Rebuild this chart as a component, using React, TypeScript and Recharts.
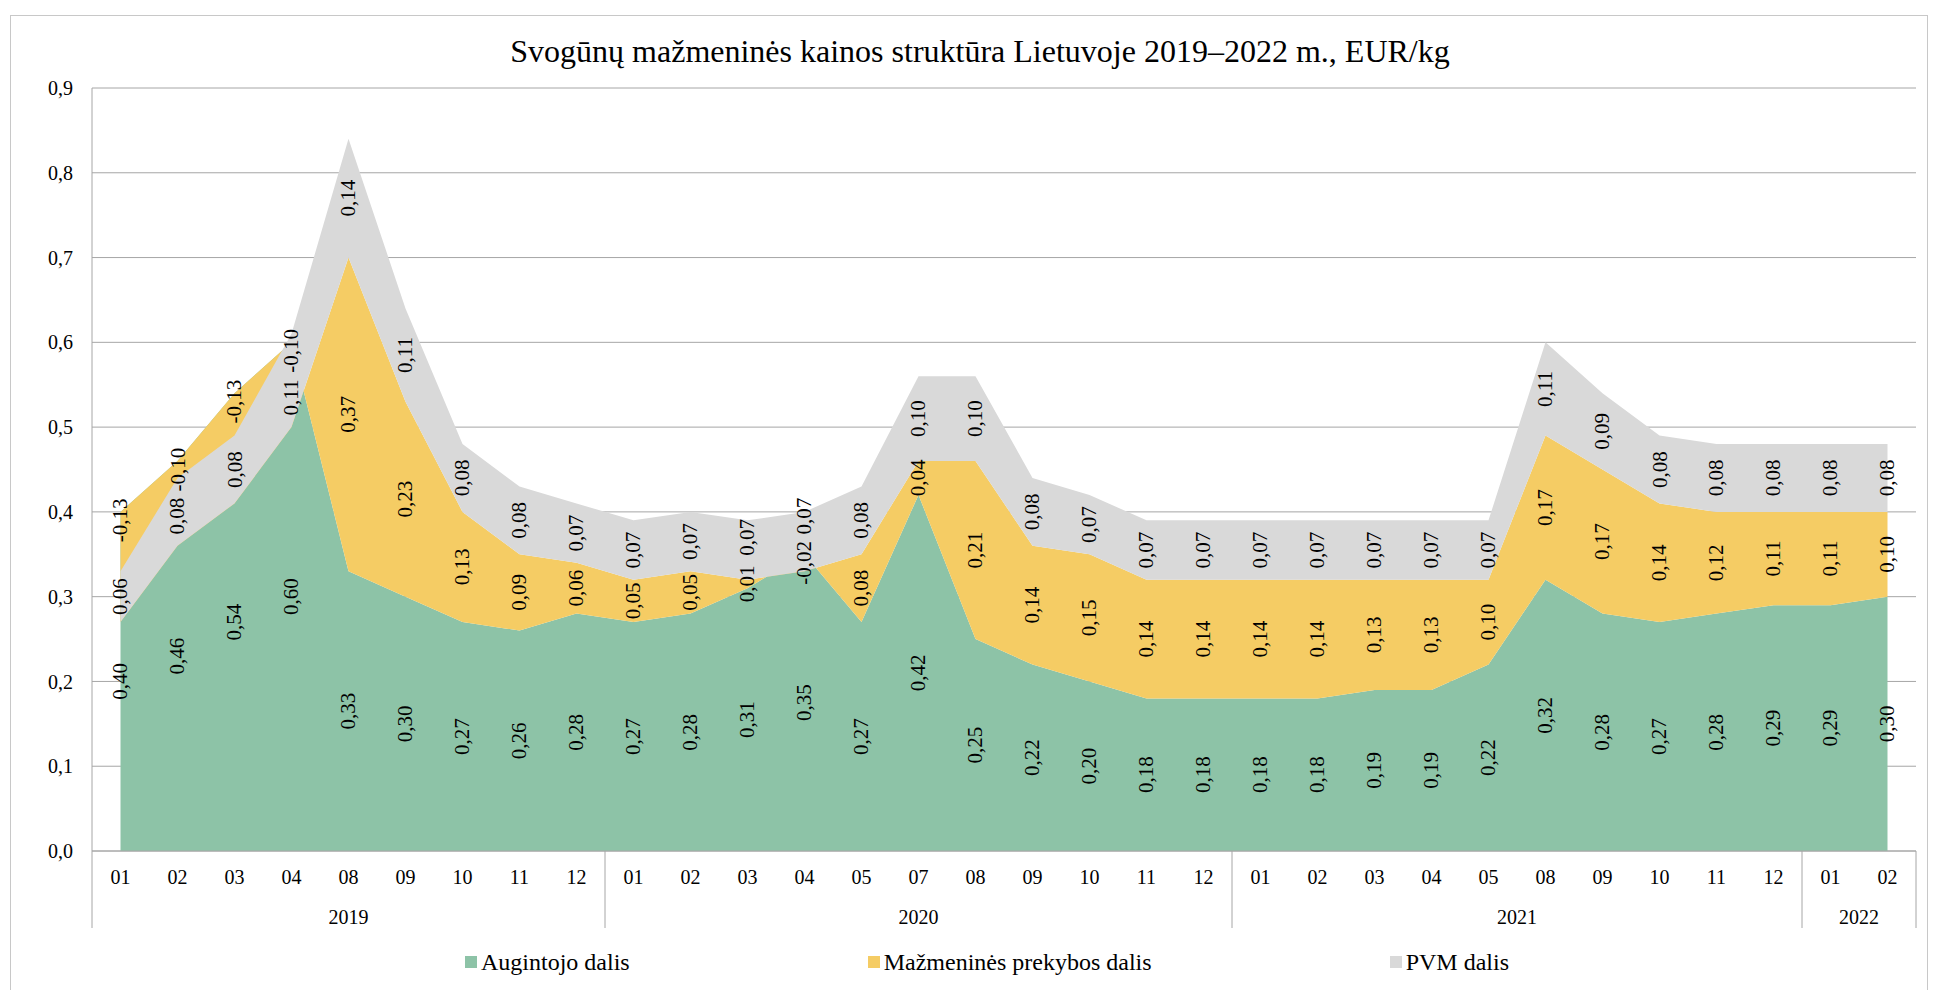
import {
  Area,
  AreaChart,
  CartesianGrid,
  LabelList,
  Legend,
  Line,
  XAxis,
  YAxis,
} from "recharts";

const months = [
  "01", "02", "03", "04", "08", "09", "10", "11", "12",
  "01", "02", "03", "04", "05", "07", "08", "09", "10", "11", "12",
  "01", "02", "03", "04", "05", "08", "09", "10", "11", "12",
  "01", "02",
];

const yearGroups = [
  { year: "2019", count: 9 },
  { year: "2020", count: 11 },
  { year: "2021", count: 10 },
  { year: "2022", count: 2 },
];

const augintojo = [
  0.4, 0.46, 0.54, 0.6, 0.33, 0.3, 0.27, 0.26, 0.28,
  0.27, 0.28, 0.31, 0.35, 0.27, 0.42, 0.25, 0.22, 0.2, 0.18, 0.18,
  0.18, 0.18, 0.19, 0.19, 0.22, 0.32, 0.28, 0.27, 0.28, 0.29,
  0.29, 0.3,
];

const mazmenines = [
  -0.13, -0.1, -0.13, -0.1, 0.37, 0.23, 0.13, 0.09, 0.06,
  0.05, 0.05, 0.01, -0.02, 0.08, 0.04, 0.21, 0.14, 0.15, 0.14, 0.14,
  0.14, 0.14, 0.13, 0.13, 0.1, 0.17, 0.17, 0.14, 0.12, 0.11,
  0.11, 0.1,
];

const pvm = [
  0.06, 0.08, 0.08, 0.11, 0.14, 0.11, 0.08, 0.08, 0.07,
  0.07, 0.07, 0.07, 0.07, 0.08, 0.1, 0.1, 0.08, 0.07, 0.07, 0.07,
  0.07, 0.07, 0.07, 0.07, 0.07, 0.11, 0.09, 0.08, 0.08, 0.08,
  0.08, 0.08,
];

const seriesNames = ["Augintojo dalis", "Mažmeninės prekybos dalis", "PVM dalis"];
const yTicks = [0, 0.1, 0.2, 0.3, 0.4, 0.5, 0.6, 0.7, 0.8, 0.9];

const COLORS = ["#8dc3a7", "#f5cc64", "#d9d9d9"];
const GRID = "#a6a6a6";
const FONT = "'Liberation Serif', 'Times New Roman', serif";

// chart geometry (point scale padded by half a category so marks sit mid-slot)
const W = 1921;
const H = 982;
const SLOT = 57;
const HALF = SLOT / 2;
// min distance (in axis units) between two stacked value labels
const LABEL_SEP = 0.055;

const data = months.map((m, i) => {
  const a = augintojo[i];
  const z = mazmenines[i];
  const p = pvm[i];
  // negative retail share: keep its label up at the top of its strip, like Excel
  const zPos = z < 0 ? a - 0.01 : a + z / 2;
  let pPos = a + z + p / 2;
  if (Math.abs(pPos - zPos) < LABEL_SEP) {
    pPos = pPos < zPos ? zPos - LABEL_SEP : zPos + LABEL_SEP;
  }
  return {
    month: m,
    aug: a,
    maz: z,
    pvm: p,
    augMid: a / 2,
    mazMid: zPos,
    pvmMid: pPos,
  };
});

const groupStart: Record<number, { year: string; count: number }> = {};
{
  let idx = 0;
  for (const g of yearGroups) {
    groupStart[idx] = g;
    idx += g.count;
  }
}

const fmt = (v: number) => v.toFixed(2).replace(".", ",");

function ValueLabel(props: any) {
  const x = props.x ?? props.viewBox?.x;
  const y = props.y ?? props.viewBox?.y;
  const { value } = props;
  if (value == null || x == null || y == null) return null;
  return (
    <text
      x={x}
      y={y}
      transform={`rotate(-90 ${x} ${y})`}
      textAnchor="middle"
      dominantBaseline="central"
      fontFamily={FONT}
      fontSize={21}
      fill="#000"
    >
      {fmt(Number(value))}
    </text>
  );
}

function MonthTick(props: any) {
  const { x, y, payload } = props;
  const index: number = props.index ?? payload.index;
  const g = groupStart[index];
  const isLast = index === months.length - 1;
  return (
    <g>
      <text
        x={x}
        y={y + 26}
        textAnchor="middle"
        dominantBaseline="central"
        fontFamily={FONT}
        fontSize={20}
        fill="#000"
      >
        {payload.value}
      </text>
      {g && (
        <>
          <line x1={x - HALF} x2={x - HALF} y1={y} y2={y + 77} stroke={GRID} />
          <text
            x={x - HALF + g.count * HALF}
            y={y + 66}
            textAnchor="middle"
            dominantBaseline="central"
            fontFamily={FONT}
            fontSize={20}
            fill="#000"
          >
            {g.year}
          </text>
        </>
      )}
      {isLast && (
        <line x1={x + HALF} x2={x + HALF} y1={y} y2={y + 77} stroke={GRID} />
      )}
    </g>
  );
}

function LegendContent() {
  return (
    <div
      style={{
        display: "flex",
        justifyContent: "center",
        alignItems: "center",
        gap: 238,
        height: 42,
        paddingLeft: 26,
        fontFamily: FONT,
        fontSize: 24,
        color: "#000",
      }}
    >
      {seriesNames.map((name, i) => (
        <div key={name} style={{ display: "flex", alignItems: "center" }}>
          <span
            style={{
              display: "inline-block",
              width: 12,
              height: 12,
              background: COLORS[i],
              marginRight: 4,
            }}
          />
          <span>{name}</span>
        </div>
      ))}
    </div>
  );
}

export default function App() {
  return (
    <div style={{ position: "relative", width: W, height: H }}>
      <div
        style={{
          position: "absolute",
          left: 2,
          top: 7,
          width: 1918,
          height: 975,
          borderTop: "1px solid #c8c8c8",
          borderLeft: "1px solid #c8c8c8",
          borderRight: "1px solid #c8c8c8",
          boxSizing: "border-box",
        }}
      />
      <div
        style={{
          position: "absolute",
          left: 0,
          top: 27,
          width: 1944,
          textAlign: "center",
          fontFamily: FONT,
          fontSize: 32,
          lineHeight: "32px",
          color: "#000",
          whiteSpace: "nowrap",
        }}
      >
        Svogūnų mažmeninės kainos struktūra Lietuvoje 2019–2022 m., EUR/kg
      </div>
      <div style={{ position: "absolute", left: 0, top: 0 }}>
        <AreaChart
          width={W}
          height={H}
          data={data}
          margin={{ top: 80, right: 13, bottom: 7, left: 24 }}
        >
          <CartesianGrid vertical={false} stroke={GRID} />
          <XAxis
            dataKey="month"
            interval={0}
            padding={{ left: HALF, right: HALF }}
            height={90}
            tickSize={0}
            tickMargin={0}
            tickLine={false}
            axisLine={{ stroke: GRID }}
            tick={<MonthTick />}
          />
          <YAxis
            width={60}
            domain={[0, 0.9]}
            ticks={yTicks}
            interval={0}
            tickSize={0}
            tickMargin={19}
            tickLine={false}
            axisLine={{ stroke: GRID }}
            tickFormatter={(v: number) => v.toFixed(1).replace(".", ",")}
            tick={{ fill: "#000", fontSize: 20, fontFamily: FONT }}
          />
          <Legend verticalAlign="bottom" height={42} content={<LegendContent />} />
          <Area
            dataKey="aug"
            name={seriesNames[0]}
            stackId="s"
            type="linear"
            fill={COLORS[0]}
            fillOpacity={1}
            stroke="none"
            isAnimationActive={false}
          />
          <Area
            dataKey="maz"
            name={seriesNames[1]}
            stackId="s"
            type="linear"
            fill={COLORS[1]}
            fillOpacity={1}
            stroke="none"
            isAnimationActive={false}
          />
          <Area
            dataKey="pvm"
            name={seriesNames[2]}
            stackId="s"
            type="linear"
            fill={COLORS[2]}
            fillOpacity={1}
            stroke="none"
            isAnimationActive={false}
          />
          <Line
            dataKey="augMid"
            stroke="none"
            dot={false}
            activeDot={false}
            legendType="none"
            isAnimationActive={false}
          >
            <LabelList dataKey="aug" content={<ValueLabel />} />
          </Line>
          <Line
            dataKey="mazMid"
            stroke="none"
            dot={false}
            activeDot={false}
            legendType="none"
            isAnimationActive={false}
          >
            <LabelList dataKey="maz" content={<ValueLabel />} />
          </Line>
          <Line
            dataKey="pvmMid"
            stroke="none"
            dot={false}
            activeDot={false}
            legendType="none"
            isAnimationActive={false}
          >
            <LabelList dataKey="pvm" content={<ValueLabel />} />
          </Line>
        </AreaChart>
      </div>
    </div>
  );
}
